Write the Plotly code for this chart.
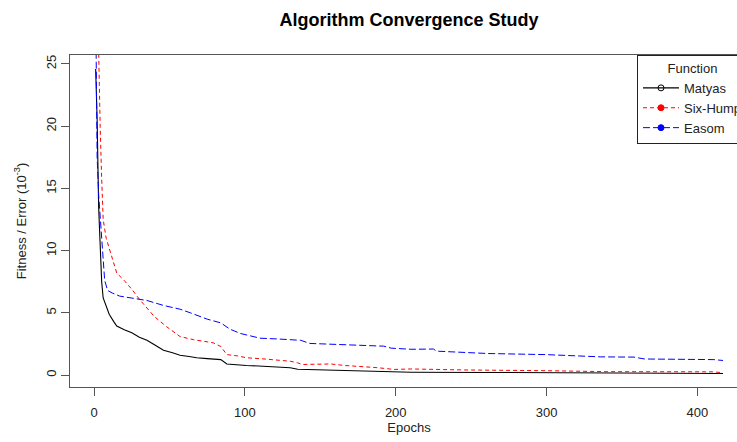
import plotly.graph_objects as go

# ---- data ----
matyas_epochs = [1, 2, 3, 4, 5, 6, 8, 10, 13, 15, 20, 25, 30, 35, 40, 46, 52, 57, 63, 68, 75, 84, 88, 95,
                 101, 112, 123, 130, 135, 157, 179, 196, 210, 260, 300, 340, 380, 417]
matyas_vals = [24.6, 20.5, 13.5, 10.5, 7.5, 6.2, 5.6, 4.9, 4.3, 3.95, 3.65, 3.4, 3.05, 2.8, 2.45, 2.0, 1.8, 1.6,
               1.5, 1.4, 1.33, 1.25, 0.9, 0.82, 0.78, 0.72, 0.67, 0.6, 0.47, 0.4, 0.32, 0.25, 0.24, 0.22, 0.2,
               0.18, 0.15, 0.13]

sixhump_epochs = [2, 3, 4, 5, 6, 8, 10, 13, 15, 20, 25, 30, 35, 40, 48, 57, 66, 79, 84, 88, 95, 101, 112, 130,
                  135, 138, 157, 166, 188, 199, 210, 235, 245, 300, 340, 410, 417]
sixhump_vals = [32.0, 24.8, 20.0, 15.8, 12.5, 11.0, 10.2, 8.9, 8.2, 7.6, 6.9, 6.1, 5.4, 4.7, 3.9, 3.1, 2.85, 2.6,
                2.3, 1.65, 1.55, 1.4, 1.31, 1.12, 0.99, 0.86, 0.9, 0.78, 0.6, 0.46, 0.5, 0.48, 0.42, 0.36, 0.28,
                0.27, 0.2]

easom_epochs = [1, 2, 3, 4, 5, 6, 7, 9, 12, 17, 25, 35, 46, 57, 64, 75, 84, 90, 97, 104, 110, 123, 137, 143,
                157, 179, 192, 197, 210, 225, 227, 261, 300, 336, 358, 365, 411, 417]
easom_vals = [30.0, 17.5, 14.5, 12.7, 10.5, 8.8, 7.6, 6.8, 6.6, 6.35, 6.2, 6.0, 5.6, 5.3, 5.0, 4.5, 4.2, 3.7,
              3.35, 3.13, 2.97, 2.9, 2.8, 2.55, 2.49, 2.38, 2.33, 2.17, 2.08, 2.1, 1.93, 1.74, 1.65, 1.47, 1.45,
              1.3, 1.25, 1.18]

series_names = ["Matyas", "Six-Hump", "Easom"]
x_ticks = [0, 100, 200, 300, 400]
y_ticks = [0, 5, 10, 15, 20, 25]

FONT = "Liberation Sans, Arial, sans-serif"

fig = go.Figure()

styles = [
    dict(color="#000000", dash="solid", width=1.1, symbol="circle-open"),
    dict(color="#FF0000", dash="4px,3px", width=1.0, symbol="circle"),
    dict(color="#0000FF", dash="7px,3px", width=1.0, symbol="circle"),
]
data = [(matyas_epochs, matyas_vals), (sixhump_epochs, sixhump_vals), (easom_epochs, easom_vals)]

for (xs, ys), name, st in zip(data, series_names, styles):
    fig.add_trace(go.Scatter(
        x=xs, y=ys, mode="lines", name=name, showlegend=False,
        line=dict(color=st["color"], dash=st["dash"], width=st["width"]),
    ))
for name, st in zip(series_names, styles):
    fig.add_trace(go.Scatter(
        x=[None], y=[None], mode="lines+markers", name=name,
        line=dict(color=st["color"], dash=st["dash"], width=st["width"]),
        marker=dict(color=st["color"], symbol=st["symbol"], size=6,
                    line=dict(color=st["color"], width=1)),
    ))

axis_common = dict(
    showgrid=False, zeroline=False, showline=True, mirror=True,
    linecolor="#555555", linewidth=1, ticks="outside", ticklen=8,
    tickcolor="#555555", tickwidth=1,
    tickfont=dict(family=FONT, size=13, color="#222222"),
)

fig.update_layout(
    width=760, height=442,
    margin=dict(l=70, r=12, t=55, b=55),
    paper_bgcolor="white", plot_bgcolor="white",
    title=dict(text="Algorithm Convergence Study", x=(70 + 748) / 2 / 760, xanchor="center",
               y=0.955, yanchor="middle",
               font=dict(family=FONT, size=18, color="#000000", weight="bold")),
    xaxis=dict(axis_common, range=[-16, 433.6], tickvals=x_ticks, ticklabelstandoff=5,
               title=dict(text="Epochs", standoff=2, font=dict(family=FONT, size=13, color="#222222"))),
    yaxis=dict(axis_common, range=[-0.95, 25.72], tickvals=y_ticks, tickangle=-90,
               title=dict(text="Fitness / Error (10<sup>-3</sup>)", standoff=14,
                          font=dict(family=FONT, size=13, color="#222222"))),
    legend=dict(x=1, xanchor="right", y=1, yanchor="top",
                bgcolor="white", bordercolor="#222222", borderwidth=1,
                font=dict(family=FONT, size=13, color="#222222"),
                tracegroupgap=0,
                title=dict(text="Function", side="top center",
                           font=dict(family=FONT, size=13, color="#222222")),
                itemwidth=36),
)

fig.write_html("out.html", config={"displayModeBar": False},
               post_script="document.body.style.margin='0';document.body.style.overflow='hidden';")
